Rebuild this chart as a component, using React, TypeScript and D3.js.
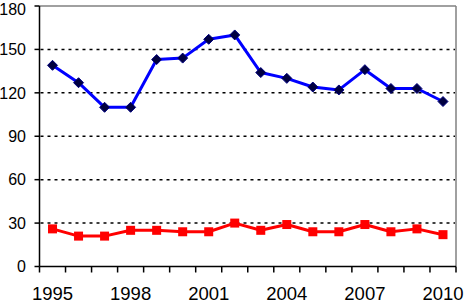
import React from "react";
import * as d3 from "d3";

const years = ["1995","1996","1997","1998","1999","2000","2001","2002","2003","2004","2005","2006","2007","2008","2009","2010"];
const blueSeries = [139, 127, 110, 110, 143, 144, 157, 160, 134, 130, 124, 122, 136, 123, 123, 114];
const redSeries = [26, 21, 21, 25, 25, 24, 24, 30, 25, 29, 24, 24, 29, 24, 26, 22];
const yTicks = [0, 30, 60, 90, 120, 150, 180];
const xLabels = ["1995", "1998", "2001", "2004", "2007", "2010"];

const W = 464, H = 302;
const L = 39.5, R = 456, T = 6, B = 266.5;

export default function App() {
  const x = d3.scaleBand<string>().domain(years).range([L, R]);
  const y = d3.scaleLinear().domain([0, 180]).range([B, T]);
  const cx = (d: string) => (x(d) as number) + x.bandwidth() / 2;
  const line = d3.line<number>().x((_, i) => cx(years[i])).y(v => y(v));
  const boundaries = years.map(d => x(d) as number).concat([R]);
  const font = "'Liberation Sans', Arial, sans-serif";

  return (
    <svg width={W} height={H} style={{ position: "absolute", left: 0, top: 0, background: "#fff" }}>
      <line x1={L} x2={R} y1={T} y2={T} stroke="#808080" strokeWidth={1.5} />
      <line x1={R} x2={R} y1={T} y2={B} stroke="#808080" strokeWidth={1.5} />
      {yTicks.filter(t => t > 0 && t < 180).map(t => (
        <line key={t} x1={L + 1} x2={R - 1} y1={y(t)} y2={y(t)} stroke="#000" strokeWidth={1.5} strokeDasharray="3,4" />
      ))}
      <line x1={L} x2={L} y1={T} y2={B} stroke="#000" strokeWidth={1.5} />
      {yTicks.map(t => (
        <g key={t}>
          <line x1={L - 5} x2={L} y1={y(t)} y2={y(t)} stroke="#000" strokeWidth={1.5} />
          <text x={26} y={Math.max(y(t), 9.5)} dy="0.36em" textAnchor="end" fontFamily={font} fontSize={16} fill="#000">{t}</text>
        </g>
      ))}
      <line x1={L} x2={R} y1={B} y2={B} stroke="#000" strokeWidth={1.5} />
      {boundaries.map((b, i) => (
        <line key={i} x1={b} x2={b} y1={B} y2={B + 6} stroke="#000" strokeWidth={1.5} />
      ))}
      {xLabels.map(l => (
        <text key={l} x={cx(l)} y={299.5} textAnchor="middle" fontFamily={font} fontSize={18.5} fill="#000">{l}</text>
      ))}
      <path d={line(blueSeries) || ""} fill="none" stroke="#0000ff" strokeWidth={3} strokeLinejoin="round" />
      {blueSeries.map((v, i) => {
        const px = cx(years[i]), py = y(v), s = 5;
        return <path key={i} d={`M${px},${py - s}L${px + s},${py}L${px},${py + s}L${px - s},${py}Z`} fill="#000040" stroke="#000080" strokeWidth={1} />;
      })}
      <path d={line(redSeries) || ""} fill="none" stroke="#ff0000" strokeWidth={3} strokeLinejoin="round" />
      {redSeries.map((v, i) => {
        const px = cx(years[i]), py = y(v), s = 4.5;
        return <rect key={i} x={px - s} y={py - s} width={2 * s} height={2 * s} fill="#ff0000" />;
      })}
    </svg>
  );
}
